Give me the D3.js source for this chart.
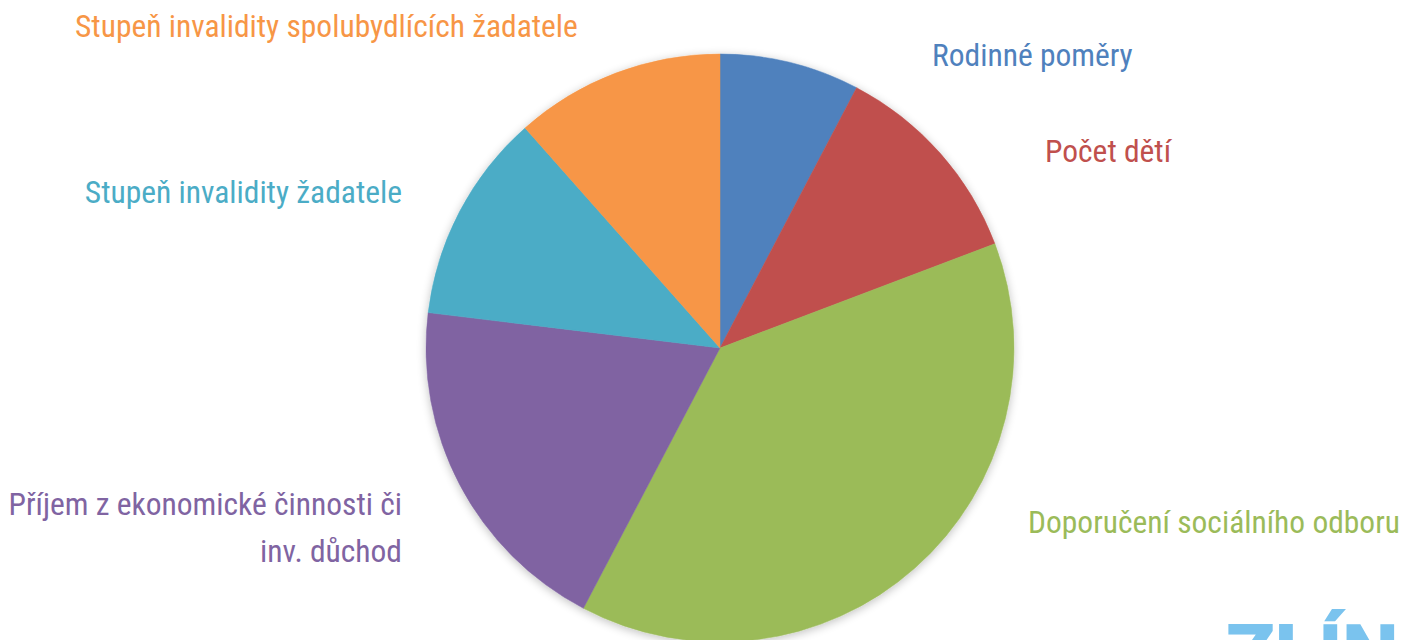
<!DOCTYPE html>
<html>
<head>
<meta charset="utf-8">
<script src="https://cdn.jsdelivr.net/npm/d3@7"></script>
<style>
  body { margin: 0; background: #fff; }
  svg { display: block; }
  text { font-family: "Roboto Condensed", "Roboto", sans-serif; }
</style>
</head>
<body>
<script>
// data
var categories = ["Rodinné poměry", "Počet dětí", "Doporučení sociálního odboru",
  "Příjem z ekonomické činnosti či inv. důchod", "Stupeň invalidity žadatele",
  "Stupeň invalidity spolubydlících žadatele"]
var counts = [2, 3, 10, 5, 3, 3]
var colors = ["#4f81bd", "#c0504d", "#9bbb59", "#8064a2", "#4bacc6", "#f79646"]

// label layout (lines, anchor point)
var labelLayout = [
  { lines: ["Rodinné poměry"], x: 932, y: 66, anchor: "start" },
  { lines: ["Počet dětí"], x: 1045, y: 162, anchor: "start" },
  { lines: ["Doporučení sociálního odboru"], x: 1028, y: 533, anchor: "start" },
  { lines: ["Příjem z ekonomické činnosti či", "inv. důchod"], x: 402, y: 515, anchor: "end" },
  { lines: ["Stupeň invalidity žadatele"], x: 402, y: 203, anchor: "end" },
  { lines: ["Stupeň invalidity spolubydlících žadatele"], x: 75, y: 37, anchor: "start" }
]

var width = 1402,
    height = 640
var cx = 720, cy = 348, radius = 294

var svg = d3.select("body").append("svg")
    .attr("width", width)
    .attr("height", height)

var defs = svg.append("defs")
var f = defs.append("filter").attr("id", "shadow")
    .attr("x", "-10%").attr("y", "-10%").attr("width", "120%").attr("height", "120%")
f.append("feGaussianBlur").attr("in", "SourceAlpha").attr("stdDeviation", 5)
f.append("feOffset").attr("dx", 0).attr("dy", 2).attr("result", "blur")
f.append("feComponentTransfer").append("feFuncA").attr("type", "linear").attr("slope", 0.25)
var merge = f.append("feMerge")
merge.append("feMergeNode")
merge.append("feMergeNode").attr("in", "SourceGraphic")

var pie = d3.pie().sort(null).value(d => d)
var arc = d3.arc().innerRadius(0).outerRadius(radius)

var g = svg.append("g")
    .attr("transform", "translate(" + cx + "," + cy + ")")
    .attr("filter", "url(#shadow)")

g.selectAll("path")
    .data(pie(counts))
    .enter()
    .append("path")
    .attr("d", arc)
    .attr("fill", (d, i) => colors[i])
    .attr("stroke", (d, i) => colors[i])
    .attr("stroke-width", 0.5)

// labels
var labels = svg.append("g")
labelLayout.forEach(function (l, i) {
    var t = labels.append("text")
        .attr("transform", "translate(" + l.x + "," + l.y + ")")
        .attr("text-anchor", l.anchor)
        .attr("fill", colors[i])
        .style("font-size", "31.5px")
    l.lines.forEach(function (line, j) {
        t.append("tspan").attr("x", 0).attr("y", j * 47).text(line)
    })
})

// logo cut off at the bottom right
svg.append("text")
    .attr("x", 1226)
    .attr("y", 681)
    .attr("fill", "#7ac3ee")
    .style("font-family", "Roboto, sans-serif")
    .style("font-weight", 900)
    .style("font-size", "80px")
    .text("ZLÍN")
</script>
</body>
</html>
